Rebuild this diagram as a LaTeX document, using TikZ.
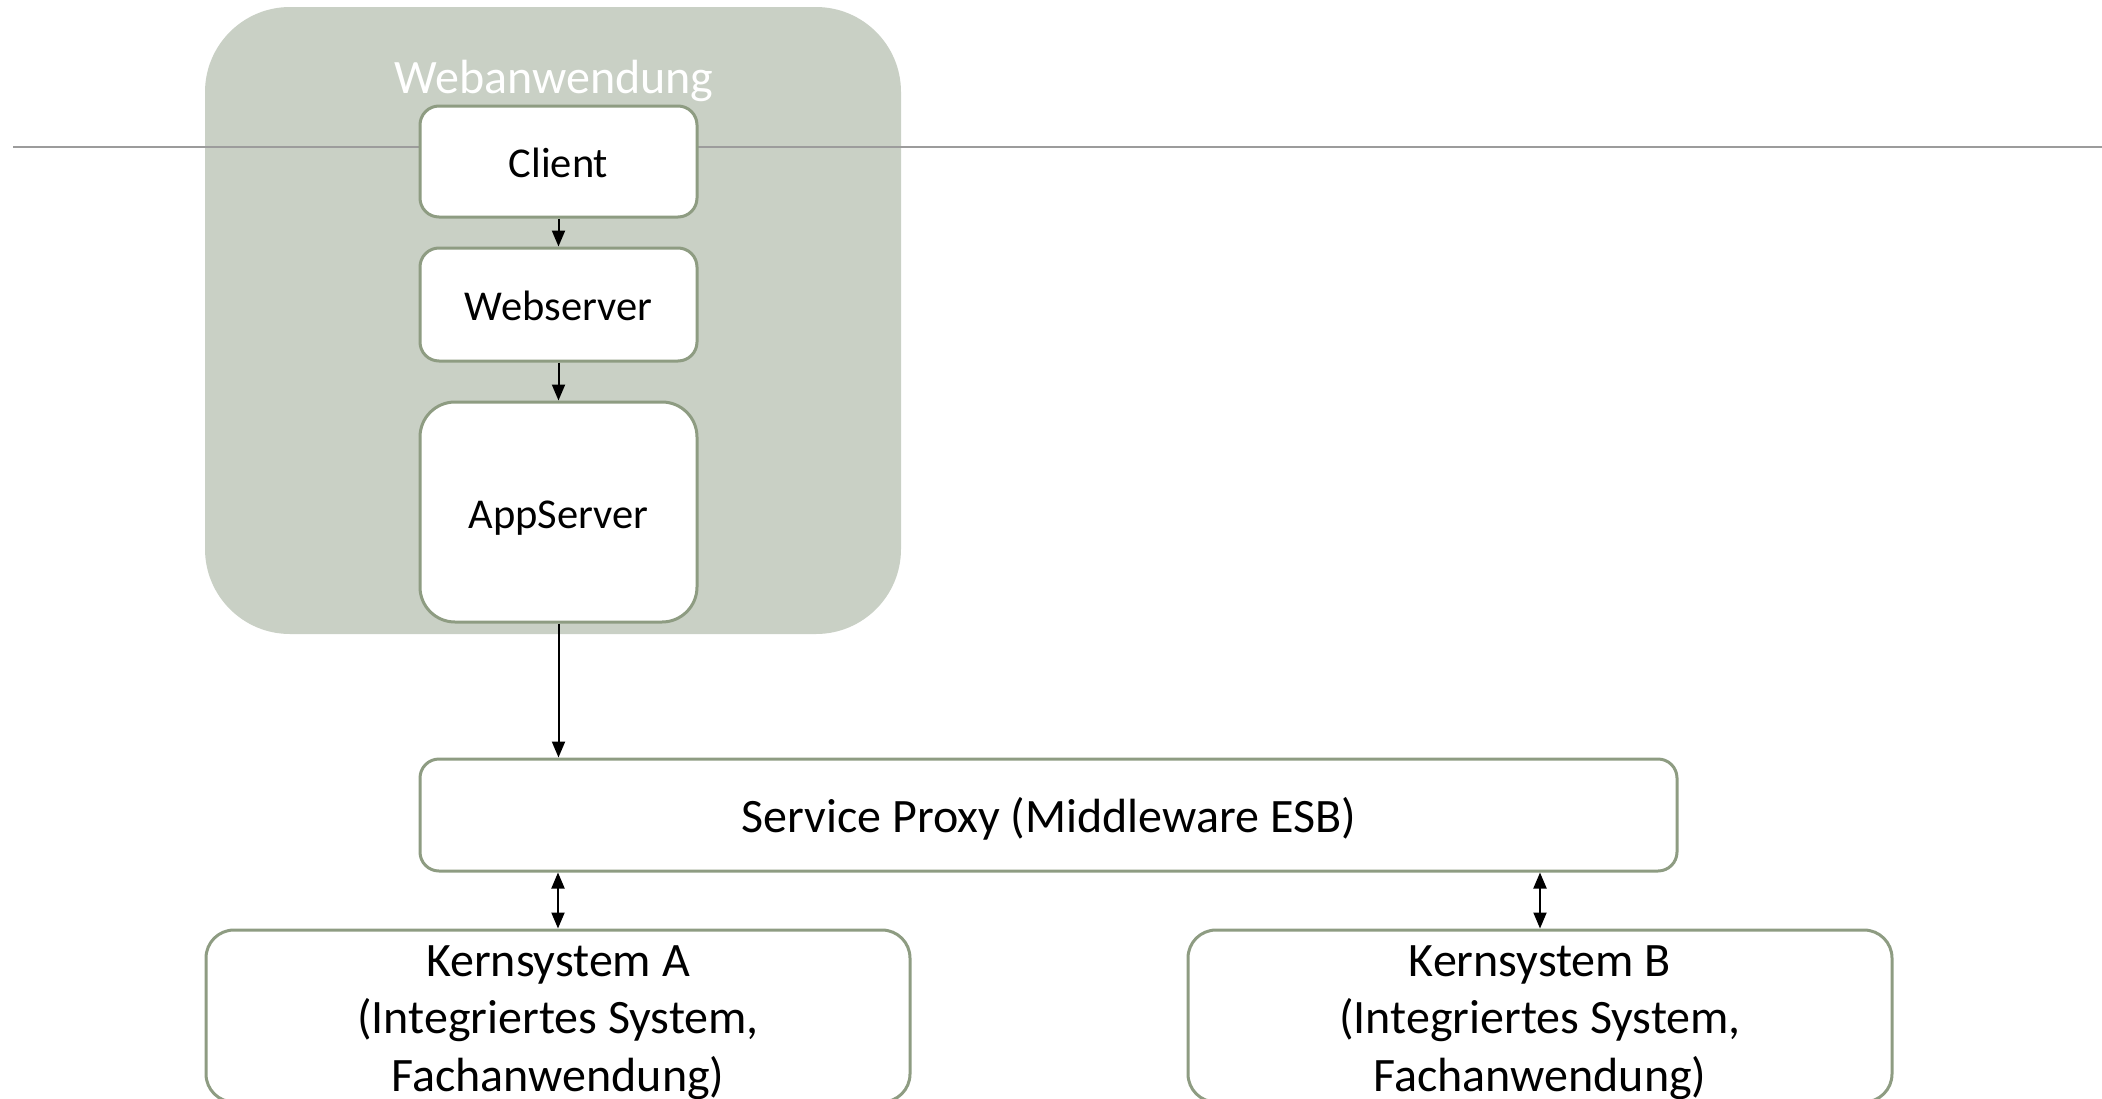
\documentclass[tikz,border=0pt]{standalone}
\usepackage{fontspec}
\setmainfont{Carlito}
\usetikzlibrary{arrows.meta}
\definecolor{panelfill}{HTML}{C9D0C5}
\definecolor{boxedge}{HTML}{8E9C82}
\definecolor{rulegray}{HTML}{9C9C9C}
\begin{document}
\begin{tikzpicture}[x=1pt,y=-1pt,
  panel/.style={draw=none, fill=panelfill, rounded corners=85pt, inner sep=0pt},
  box/.style={draw=boxedge, line width=3pt, fill=white, inner sep=0pt, align=center},
  smalltext/.style={font=\fontsize{42.5}{51}\selectfont, text height=32pt, text depth=0pt},
  bigtext/.style={font=\fontsize{48}{57.5}\selectfont, text height=35pt, text depth=0pt},
  threeline/.style={font=\fontsize{48}{57.5}\selectfont, text height=150pt, text depth=0pt},
  flow/.style={-{Triangle[width=13pt,length=16pt]}, line width=2pt},
  twoway/.style={{Triangle[width=13pt,length=16pt]}-{Triangle[width=13pt,length=16pt]}, line width=2pt},
]
\useasboundingbox (0,0) rectangle (2102,1098);

% web application panel
\node[panel, minimum width=696pt, minimum height=627pt] (webapp) at (553,320.5) {};

% horizontal divider
\coordinate (rulestart) at (13,147);
\coordinate (ruleend) at (2102,147);
\draw[rulegray, line width=2pt] (rulestart) -- (ruleend);

\node[font=\fontsize{48}{57.5}\selectfont, text=white, anchor=base] (webtitle) at (554,93) {Webanwendung};

% tiers inside the web application
\node[box, smalltext, minimum width=277pt, minimum height=111pt, rounded corners=19pt] (client) at (558.5,161.5) {Client};
\node[box, smalltext, minimum width=277pt, minimum height=113pt, rounded corners=19pt] (webserver) at (558.5,304.5) {Webserver};
\node[box, smalltext, minimum width=277pt, minimum height=220pt, rounded corners=35pt] (appserver) at (558.5,512) {AppServer};

% middleware and back-end systems
\node[box, bigtext, minimum width=1257pt, minimum height=112pt, rounded corners=19pt] (proxy) at (1048.5,815) {Service Proxy (Middleware ESB)};
\node[box, threeline, minimum width=704pt, minimum height=172pt, rounded corners=28pt] (kernA) at (558,1016) {Kernsystem A\\(Integriertes System,\\Fachanwendung)};
\node[box, threeline, minimum width=704pt, minimum height=172pt, rounded corners=28pt] (kernB) at (1540,1016) {Kernsystem B\\(Integriertes System,\\Fachanwendung)};

% connectors
\draw[flow] (client.south) -- (webserver.north);
\draw[flow] (webserver.south) -- (appserver.north);
\draw[flow] (appserver.south) -- (appserver.south |- proxy.north);
\draw[twoway] (proxy.south -| kernA.north) -- (kernA.north);
\draw[twoway] (proxy.south -| kernB.north) -- (kernB.north);
\end{tikzpicture}
\end{document}
